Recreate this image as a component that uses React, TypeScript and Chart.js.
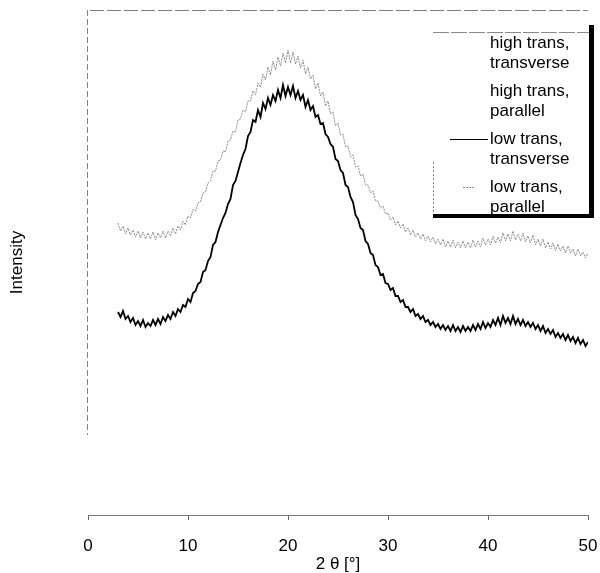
import React, { useEffect, useRef } from 'react';
import { Chart, registerables } from 'chart.js';
Chart.register(...registerables);

// 2θ sampling of the measured patterns (degrees)
const startAngle = 3;
const angleStep = 0.25;

const seriesLabels = [
  'high trans, transverse',
  'high trans, parallel',
  'low trans, transverse',
  'low trans, parallel',
];

const xTicks = [0, 10, 20, 30, 40, 50];

// Intensities (arbitrary units), one value per 0.25° from 3° to 50°
const highTransTransverse: number[] = [];
const highTransParallel: number[] = [];

const lowTransTransverse = [
  203, 198, 204, 196,
  199, 193, 197, 190,
  194, 189, 195, 188,
  192, 189, 195, 190,
  196, 191, 198, 194,
  200, 196, 203, 199,
  206, 203, 210, 208,
  216, 213, 222, 224,
  231, 233, 243, 245,
  254, 258, 270, 273,
  283, 290, 297, 302,
  311, 316, 330, 334,
  343, 352, 360, 366,
  379, 383, 395, 393,
  405, 398, 412, 406,
  417, 410, 420, 414,
  425, 417, 430, 419,
  428, 420, 429, 417,
  424, 415, 420, 408,
  415, 405, 409, 398,
  400, 391, 392, 381,
  378, 371, 368, 356,
  354, 345, 342, 330,
  328, 318, 313, 300,
  296, 287, 285, 274,
  271, 262, 260, 250,
  248, 240, 241, 232,
  231, 225, 227, 219,
  219, 213, 215, 208,
  208, 203, 206, 199,
  201, 196, 199, 193,
  195, 190, 193, 188,
  191, 186, 190, 185,
  189, 184, 190, 184,
  188, 183, 189, 184,
  188, 184, 190, 185,
  191, 186, 193, 187,
  192, 188, 195, 190,
  197, 190, 199, 192,
  197, 191, 199, 191,
  196, 190, 195, 189,
  193, 188, 192, 186,
  190, 184, 189, 182,
  186, 181, 185, 178,
  182, 177, 181, 175,
  180, 174, 178, 172,
  177, 171, 175, 169,
  173,
];

const lowTransParallel = [
  292, 284, 289, 281,
  287, 280, 285, 278,
  284, 277, 283, 276,
  282, 276, 283, 275,
  282, 277, 284, 277,
  284, 279, 287, 281,
  289, 285, 294, 290,
  299, 297, 306, 304,
  312, 313, 322, 323,
  332, 334, 344, 344,
  354, 355, 364, 363,
  374, 375, 384, 383,
  395, 396, 405, 403,
  414, 414, 424, 420,
  432, 428, 441, 435,
  448, 440, 454, 445,
  458, 449, 462, 452,
  465, 452, 463, 451,
  459, 447, 455, 441,
  448, 436, 440, 426,
  432, 419, 423, 409,
  414, 401, 403, 389,
  392, 380, 381, 368,
  369, 358, 360, 348,
  349, 339, 341, 330,
  330, 322, 324, 314,
  314, 307, 309, 301,
  302, 295, 298, 290,
  294, 287, 291, 283,
  287, 280, 285, 278,
  282, 276, 281, 274,
  279, 273, 278, 271,
  276, 270, 276, 268,
  274, 268, 275, 267,
  273, 267, 274, 267,
  273, 267, 275, 268,
  274, 268, 277, 270,
  276, 270, 279, 272,
  278, 272, 282, 274,
  281, 274, 284, 275,
  281, 274, 282, 273,
  279, 272, 280, 270,
  276, 269, 276, 267,
  273, 266, 272, 264,
  271, 264, 269, 262,
  269, 262, 266, 259,
  266, 259, 263, 257,
  262,
];

const toPoints = (values: number[]) =>
  values.map((v, i) => ({ x: startAngle + i * angleStep, y: v }));

const FONT_FAMILY = '"Liberation Sans", Arial, Helvetica, sans-serif';

const frameLines = {
  id: 'frameLines',
  beforeDatasetsDraw(chart: any) {
    const { ctx, chartArea } = chart;
    const yScale = chart.scales.y;
    ctx.save();
    ctx.strokeStyle = '#808080';
    ctx.lineWidth = 1;
    // left (value) axis, dotted, fading out below
    ctx.setLineDash([6, 3]);
    ctx.beginPath();
    ctx.moveTo(chartArea.left - 0.5, chartArea.top);
    ctx.lineTo(chartArea.left - 0.5, yScale.getPixelForValue(80));
    ctx.stroke();
    // top frame line
    ctx.setLineDash([14, 3]);
    ctx.beginPath();
    ctx.moveTo(chartArea.left + 2, chartArea.top + 0.5);
    ctx.lineTo(chartArea.right, chartArea.top + 0.5);
    ctx.stroke();
    ctx.restore();
  },
};

const boxLegend = {
  id: 'boxLegend',
  afterDraw(chart: any) {
    const { ctx } = chart;
    const L = 433, T = 32, R = 590, B = 214;
    ctx.save();
    ctx.fillStyle = '#ffffff';
    ctx.fillRect(L, T, R - L, B - T);
    ctx.strokeStyle = '#8a8a8a';
    ctx.lineWidth = 1;
    ctx.setLineDash([16, 2]);
    ctx.beginPath();
    ctx.moveTo(L, T + 0.5);
    ctx.lineTo(R, T + 0.5);
    ctx.stroke();
    ctx.setLineDash([2, 2]);
    ctx.beginPath();
    ctx.moveTo(L + 0.5, T + 130);
    ctx.lineTo(L + 0.5, B);
    ctx.stroke();
    ctx.setLineDash([]);
    ctx.fillStyle = '#000000';
    ctx.fillRect(R - 1, T - 7, 5, B - T + 11);
    ctx.fillRect(L, B, R - L + 4, 4);

    ctx.font = `17px ${FONT_FAMILY}`;
    ctx.textBaseline = 'middle';
    ctx.textAlign = 'left';
    chart.data.datasets.forEach((ds: any, i: number) => {
      const y0 = T + 11 + i * 48;
      const parts = String(ds.label).split(', ');
      const lines = parts.length > 1 ? [parts[0] + ',', parts.slice(1).join(', ')] : parts;
      ctx.fillStyle = '#000000';
      lines.forEach((t: string, k: number) => ctx.fillText(t, 490, y0 + k * 20));
      ctx.strokeStyle = ds.borderColor;
      ctx.lineWidth = 1;
      ctx.setLineDash(ds.borderDash || []);
      ctx.beginPath();
      if (ds.borderDash && ds.borderDash.length) {
        ctx.moveTo(463, y0 + 0.5);
        ctx.lineTo(474, y0 + 0.5);
      } else {
        ctx.moveTo(450, y0 + 0.5);
        ctx.lineTo(488, y0 + 0.5);
      }
      ctx.stroke();
      ctx.setLineDash([]);
    });
    ctx.restore();
  },
};

export default function App() {
  const canvasRef = useRef<HTMLCanvasElement | null>(null);

  useEffect(() => {
    if (!canvasRef.current) return;
    const font = { family: FONT_FAMILY, size: 17 };
    const chart = new Chart(canvasRef.current, {
      type: 'line',
      data: {
        datasets: [
          {
            label: seriesLabels[0],
            data: toPoints(highTransTransverse),
            borderColor: 'rgba(0,0,0,0)',
            borderWidth: 1,
          },
          {
            label: seriesLabels[1],
            data: toPoints(highTransParallel),
            borderColor: 'rgba(0,0,0,0)',
            borderWidth: 1,
          },
          {
            label: seriesLabels[2],
            data: toPoints(lowTransTransverse),
            borderColor: '#000000',
            borderWidth: 1.8,
          },
          {
            label: seriesLabels[3],
            data: toPoints(lowTransParallel),
            borderColor: '#8c8c8c',
            borderWidth: 1,
            borderDash: [2, 1],
          },
        ],
      },
      options: {
        animation: false,
        responsive: false,
        devicePixelRatio: 1,
        layout: { padding: { top: 10, right: 0, left: 0, bottom: 0 } },
        elements: { point: { radius: 0 }, line: { tension: 0 } },
        plugins: { legend: { display: false }, tooltip: { enabled: false } },
        scales: {
          x: {
            type: 'linear',
            min: 0,
            max: 50,
            afterBuildTicks: (s: any) => {
              s.ticks = xTicks.map((v) => ({ value: v }));
            },
            ticks: { font, color: '#000000', padding: 16, maxRotation: 0, autoSkip: false },
            grid: { display: true, drawOnChartArea: false, drawTicks: true, tickLength: 5, color: '#666666' },
            border: { display: true, color: '#7a7a7a', dash: [12, 2] },
            title: {
              display: true,
              text: '2 θ [°]',
              color: '#000000',
              font: { family: FONT_FAMILY, size: 17, lineHeight: 1 },
              padding: { top: 0, bottom: 0 },
            },
            afterFit: (s: any) => {
              s.height = 58;
              s.paddingLeft = 0;
              s.paddingRight = 12;
            },
          },
          y: {
            min: 0,
            max: 505,
            ticks: { display: false },
            grid: { display: false },
            border: { display: false },
            title: {
              display: true,
              text: 'Intensity',
              color: '#000000',
              font: { family: FONT_FAMILY, size: 17 },
              padding: { top: 7, bottom: 0 },
            },
            afterFit: (s: any) => {
              s.width = 88;
            },
          },
        },
      } as any,
      plugins: [frameLines, boxLegend],
    });
    return () => chart.destroy();
  }, []);

  return (
    <div style={{ position: 'fixed', left: 0, top: 0, width: 600, height: 573, background: '#fff' }}>
      <canvas ref={canvasRef} width={600} height={573} />
    </div>
  );
}
